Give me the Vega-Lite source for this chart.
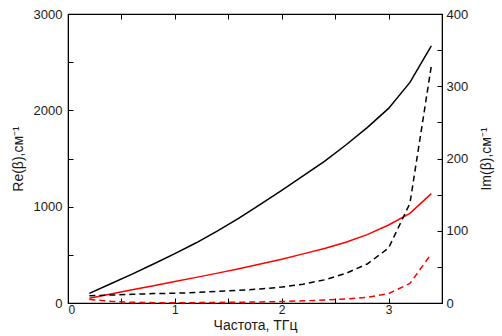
{
  "$schema": "https://vega.github.io/schema/vega-lite/v6.json",
  "autosize": "none",
  "width": 374,
  "height": 289,
  "padding": {"left": 68, "top": 14, "right": 60, "bottom": 33},
  "background": "white",
  "config": {
    "view": {"stroke": "black", "strokeWidth": 1.2},
    "axis": {
      "grid": false,
      "labelFont": "Liberation Sans",
      "labelFontSize": 13,
      "labelColor": "#1a1a1a",
      "titleFont": "Liberation Sans",
      "titleFontSize": 14,
      "titleFontWeight": "normal",
      "titleColor": "#1a1a1a",
      "tickColor": "black",
      "domainColor": "black",
      "tickSize": -5,
      "labelPadding": 10
    }
  },
  "datasets": {
    "d": [
      {"f": 0.2, "v": 100, "part": "Re", "mat": "A"},
      {"f": 0.4, "v": 200, "part": "Re", "mat": "A"},
      {"f": 0.6, "v": 300, "part": "Re", "mat": "A"},
      {"f": 0.8, "v": 405, "part": "Re", "mat": "A"},
      {"f": 1.0, "v": 512, "part": "Re", "mat": "A"},
      {"f": 1.2, "v": 625, "part": "Re", "mat": "A"},
      {"f": 1.4, "v": 748, "part": "Re", "mat": "A"},
      {"f": 1.6, "v": 880, "part": "Re", "mat": "A"},
      {"f": 1.8, "v": 1025, "part": "Re", "mat": "A"},
      {"f": 2.0, "v": 1170, "part": "Re", "mat": "A"},
      {"f": 2.2, "v": 1320, "part": "Re", "mat": "A"},
      {"f": 2.4, "v": 1470, "part": "Re", "mat": "A"},
      {"f": 2.6, "v": 1640, "part": "Re", "mat": "A"},
      {"f": 2.8, "v": 1820, "part": "Re", "mat": "A"},
      {"f": 3.0, "v": 2020, "part": "Re", "mat": "A"},
      {"f": 3.2, "v": 2290, "part": "Re", "mat": "A"},
      {"f": 3.4, "v": 2670, "part": "Re", "mat": "A"},
      {"f": 0.2, "v": 50, "part": "Re", "mat": "B"},
      {"f": 0.4, "v": 93, "part": "Re", "mat": "B"},
      {"f": 0.6, "v": 137, "part": "Re", "mat": "B"},
      {"f": 0.8, "v": 180, "part": "Re", "mat": "B"},
      {"f": 1.0, "v": 223, "part": "Re", "mat": "B"},
      {"f": 1.2, "v": 266, "part": "Re", "mat": "B"},
      {"f": 1.4, "v": 310, "part": "Re", "mat": "B"},
      {"f": 1.6, "v": 355, "part": "Re", "mat": "B"},
      {"f": 1.8, "v": 405, "part": "Re", "mat": "B"},
      {"f": 2.0, "v": 455, "part": "Re", "mat": "B"},
      {"f": 2.2, "v": 510, "part": "Re", "mat": "B"},
      {"f": 2.4, "v": 565, "part": "Re", "mat": "B"},
      {"f": 2.6, "v": 630, "part": "Re", "mat": "B"},
      {"f": 2.8, "v": 710, "part": "Re", "mat": "B"},
      {"f": 3.0, "v": 810, "part": "Re", "mat": "B"},
      {"f": 3.2, "v": 930, "part": "Re", "mat": "B"},
      {"f": 3.4, "v": 1135, "part": "Re", "mat": "B"},
      {"f": 0.2, "v": 10, "part": "Im", "mat": "A"},
      {"f": 0.4, "v": 11, "part": "Im", "mat": "A"},
      {"f": 0.6, "v": 12, "part": "Im", "mat": "A"},
      {"f": 0.8, "v": 13, "part": "Im", "mat": "A"},
      {"f": 1.0, "v": 13.5, "part": "Im", "mat": "A"},
      {"f": 1.2, "v": 14.5, "part": "Im", "mat": "A"},
      {"f": 1.4, "v": 16, "part": "Im", "mat": "A"},
      {"f": 1.6, "v": 17.5, "part": "Im", "mat": "A"},
      {"f": 1.8, "v": 19.5, "part": "Im", "mat": "A"},
      {"f": 2.0, "v": 22, "part": "Im", "mat": "A"},
      {"f": 2.2, "v": 26, "part": "Im", "mat": "A"},
      {"f": 2.4, "v": 32, "part": "Im", "mat": "A"},
      {"f": 2.6, "v": 41, "part": "Im", "mat": "A"},
      {"f": 2.8, "v": 54, "part": "Im", "mat": "A"},
      {"f": 3.0, "v": 76, "part": "Im", "mat": "A"},
      {"f": 3.2, "v": 138, "part": "Im", "mat": "A"},
      {"f": 3.4, "v": 328, "part": "Im", "mat": "A"},
      {"f": 0.2, "v": 5, "part": "Im", "mat": "B"},
      {"f": 0.4, "v": 2.5, "part": "Im", "mat": "B"},
      {"f": 0.6, "v": 1, "part": "Im", "mat": "B"},
      {"f": 0.8, "v": 0.5, "part": "Im", "mat": "B"},
      {"f": 1.0, "v": 0.5, "part": "Im", "mat": "B"},
      {"f": 1.2, "v": 0.5, "part": "Im", "mat": "B"},
      {"f": 1.4, "v": 0.8, "part": "Im", "mat": "B"},
      {"f": 1.6, "v": 1, "part": "Im", "mat": "B"},
      {"f": 1.8, "v": 1.5, "part": "Im", "mat": "B"},
      {"f": 2.0, "v": 2, "part": "Im", "mat": "B"},
      {"f": 2.2, "v": 3, "part": "Im", "mat": "B"},
      {"f": 2.4, "v": 4, "part": "Im", "mat": "B"},
      {"f": 2.6, "v": 5.5, "part": "Im", "mat": "B"},
      {"f": 2.8, "v": 8, "part": "Im", "mat": "B"},
      {"f": 3.0, "v": 13, "part": "Im", "mat": "B"},
      {"f": 3.2, "v": 27, "part": "Im", "mat": "B"},
      {"f": 3.4, "v": 68, "part": "Im", "mat": "B"}
    ]
  },
  "data": {"name": "d"},
  "layer": [
    {
      "transform": [{"filter": "datum.part === 'Re'"}],
      "mark": {"type": "line", "strokeWidth": 1.5},
      "encoding": {
        "x": {
          "field": "f", "type": "quantitative",
          "scale": {"domain": [0, 3.5], "nice": false},
          "axis": {
            "orient": "bottom", "title": "Частота, ТГц",
            "titleFontSize": 14,
            "values": [0, 0.5, 1, 1.5, 2, 2.5, 3, 3.5],
            "labelExpr": "datum.value % 1 === 0 ? format(datum.value, 'd') : ''",
            "labelFontSize": 12,
            "labelPadding": 6,
            "titlePadding": 3
          }
        },
        "y": {
          "field": "v", "type": "quantitative",
          "scale": {"domain": [0, 3000], "nice": false},
          "axis": {
            "orient": "left", "title": "Re(β),см⁻¹",
            "values": [0, 500, 1000, 1500, 2000, 2500, 3000],
            "labelExpr": "datum.value % 1000 === 0 ? format(datum.value, 'd') : ''",
            "labelPadding": 11,
            "titlePadding": 8
          }
        },
        "color": {
          "field": "mat", "type": "nominal",
          "scale": {"domain": ["A", "B"], "range": ["#000000", "#ff0000"]},
          "legend": null
        }
      }
    },
    {
      "transform": [{"filter": "datum.part === 'Im'"}],
      "mark": {"type": "line", "strokeWidth": 1.5, "strokeDash": [6, 4]},
      "encoding": {
        "x": {
          "field": "f", "type": "quantitative",
          "scale": {"domain": [0, 3.5], "nice": false},
          "axis": {
            "orient": "top", "title": null, "labels": false,
            "values": [0, 0.5, 1, 1.5, 2, 2.5, 3, 3.5]
          }
        },
        "y": {
          "field": "v", "type": "quantitative",
          "scale": {"domain": [0, 400], "nice": false},
          "axis": {
            "orient": "right", "title": "Im(β),см⁻¹",
            "values": [0, 50, 100, 150, 200, 250, 300, 350, 400],
            "labelExpr": "datum.value % 100 === 0 ? format(datum.value, 'd') : ''",
            "labelPadding": 9,
            "titleAngle": 270,
            "titlePadding": 26
          }
        },
        "color": {
          "field": "mat", "type": "nominal",
          "scale": {"domain": ["A", "B"], "range": ["#000000", "#ff0000"]},
          "legend": null
        }
      }
    }
  ],
  "resolve": {"scale": {"y": "independent"}, "axis": {"x": "independent", "y": "independent"}}
}
